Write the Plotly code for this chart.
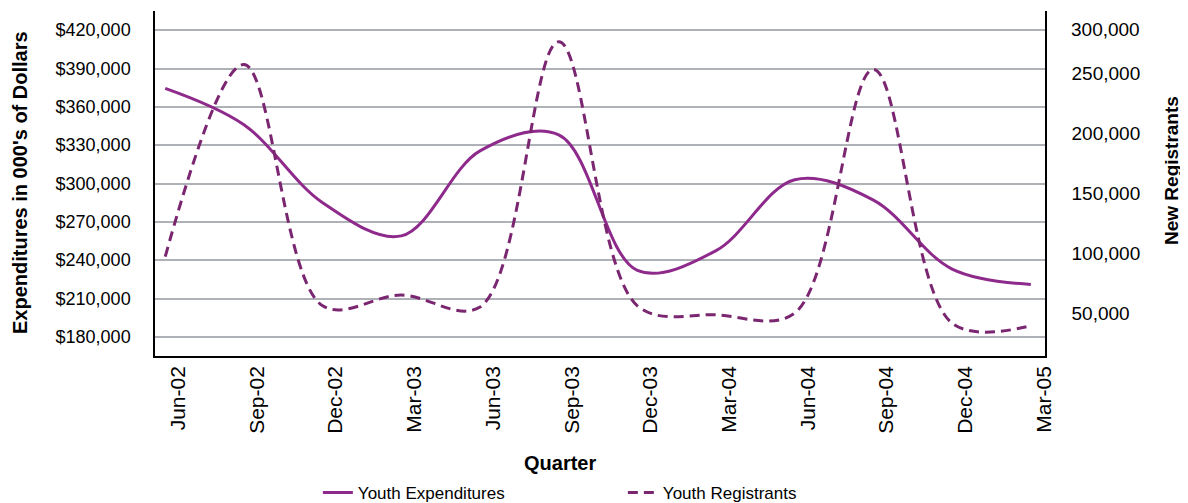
import plotly.graph_objects as go

quarters = ["Jun-02", "Sep-02", "Dec-02", "Mar-03", "Jun-03", "Sep-03",
            "Dec-03", "Mar-04", "Jun-04", "Sep-04", "Dec-04", "Mar-05"]
youth_expenditures = [374500, 346000, 285000, 259000, 325500, 338000,
                      232000, 247500, 303000, 287000, 233000, 221000]
youth_registrants = [97000, 257000, 56000, 65000, 55000, 276000,
                     56000, 48500, 50000, 253000, 41500, 39500]

left_ticks = [180000, 210000, 240000, 270000, 300000, 330000, 360000, 390000, 420000]
left_ticktext = ["${:,}".format(v) for v in left_ticks]
right_ticks = [50000, 100000, 150000, 200000, 250000, 300000]
right_ticktext = ["{:,}".format(v) for v in right_ticks]

FONT = "Liberation Sans, Arial, Helvetica, sans-serif"
SOLID = "#8E2A8B"
DASHED = "#7A2670"

fig = go.Figure()
fig.add_trace(go.Scatter(
    x=quarters, y=youth_expenditures, name="Youth Expenditures", mode="lines",
    line=dict(color=SOLID, width=3, shape="spline", smoothing=1.0),
    yaxis="y"))
fig.add_trace(go.Scatter(
    x=quarters, y=youth_registrants, name="Youth Registrants", mode="lines",
    line=dict(color=DASHED, width=3, shape="spline", smoothing=1.0, dash="10px,6px"),
    yaxis="y2"))

annotations = [
    dict(text="<b>Expenditures in 000's of Dollars</b>", textangle=-90,
         xref="paper", yref="paper", x=(20 - 155) / 890, y=(356 - 183) / 345,
         xanchor="center", yanchor="middle", showarrow=False,
         font=dict(size=20)),
    dict(text="<b>New Registrants</b>", textangle=-90,
         xref="paper", yref="paper", x=(1172 - 155) / 890, y=(356 - 171) / 345,
         xanchor="center", yanchor="middle", showarrow=False,
         font=dict(size=19)),
    dict(text="<b>Quarter</b>",
         xref="paper", yref="paper", x=(560 - 155) / 890, y=(356 - 463) / 345,
         xanchor="center", yanchor="middle", showarrow=False,
         font=dict(size=20)),
    # top right-axis label, nudged down inside the chart as in the original
    dict(text=right_ticktext[-1], xref="paper", yref="y2",
         x=1, y=right_ticks[-1], xanchor="left", yanchor="middle",
         xshift=24, yshift=-16, showarrow=False, font=dict(size=19)),
]

# page body has an 8px default margin, so the figure is 8px smaller in each direction
fig.update_layout(
    width=1180, height=495,
    margin=dict(l=147, r=143, t=3, b=147, autoexpand=False),
    paper_bgcolor="white", plot_bgcolor="white",
    font=dict(family=FONT, size=16, color="black"),
    showlegend=True,
    legend=dict(orientation="h", x=0.183, xanchor="left", y=-0.397, yanchor="middle",
                entrywidth=260, entrywidthmode="pixels",
                font=dict(family=FONT, size=17),
                bgcolor="rgba(0,0,0,0)"),
    xaxis=dict(
        type="category", range=[-0.13, 11.18],
        showline=True, linecolor="black", linewidth=1.5,
        showgrid=False, ticks="", tickangle=-90,
        ticklabelshift=13, ticklabelstandoff=0,
        tickfont=dict(size=21)),
    yaxis=dict(
        range=[165000, 435000], tickvals=left_ticks, ticktext=left_ticktext,
        showline=True, linecolor="black", linewidth=1.5,
        showgrid=True, gridcolor="#AEB2B6", gridwidth=1.5,
        zeroline=False, ticks="", ticklabelstandoff=19,
        tickfont=dict(size=18)),
    yaxis2=dict(
        overlaying="y", side="right",
        range=[14167, 301667], tickvals=right_ticks[:-1], ticktext=right_ticktext[:-1],
        showline=True, linecolor="black", linewidth=1.5,
        showgrid=False, zeroline=False, ticks="", ticklabelstandoff=21,
        tickfont=dict(size=19)),
    annotations=annotations,
)

fig.write_html("out.html")
